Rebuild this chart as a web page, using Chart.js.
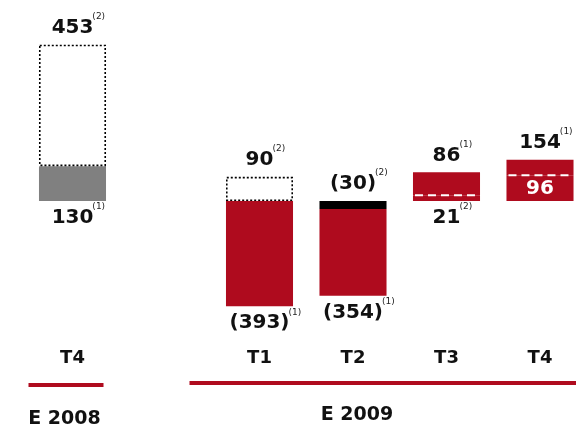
<!DOCTYPE html>
<html>
<head>
<meta charset="utf-8">
<script src="https://cdn.jsdelivr.net/npm/chart.js@4"></script>
<style>
  html, body { margin: 0; padding: 0; background: #fff; overflow: hidden; }
  #wrap { position: relative; width: 600px; height: 427px; }
</style>
</head>
<body>
<div id="wrap"><canvas id="chart" width="600" height="427"></canvas></div>
<script>
// quarters, with an empty slot between 2008 and 2009
const categories = ["T4", "", "T1", "T2", "T3", "T4"];
const groupLabels = ["E 2008", "E 2009"];
const groupStart = [0, 2];
const groupEnd = [0, 5];

// lower and upper segment of each bar
const baseValues = [130, null, -393, -30, 21, 96];
const topValues = [453, null, 90, -324, 86, 58];

// value labels and their notes
const labelsAbove = ["453", "", "90", "(30)", "86", "154"];
const notesAbove = ["(2)", "", "(2)", "(2)", "(1)", "(1)"];
const labelsBelow = ["130", "", "(393)", "(354)", "21", ""];
const notesBelow = ["(1)", "", "(1)", "(1)", "(2)", ""];
const labelsInside = ["", "", "", "", "", "96"];
const notesInside = ["", "", "", "", "", "(2)"];

const RED = "#AF0B1E";
const GREY = "#808080";

const baseColors = [GREY, null, RED, "#000000", RED, RED];
const topColors = ["#ffffff", null, "#ffffff", RED, RED, RED];
const topDotted = [true, false, true, false, false, false];

function drawNote(ctx, note, x, y) {
	ctx.font = '9px "DejaVu Sans"';
	ctx.textAlign = "left";
	ctx.textBaseline = "middle";
	ctx.fillStyle = "#222";
	ctx.fillText(note, x, y);
}

function drawLabel(ctx, text, note, x, y, color) {
	ctx.font = 'bold 20px "DejaVu Sans"';
	ctx.fillStyle = color;
	ctx.textAlign = "center";
	ctx.textBaseline = "middle";
	ctx.fillText(text, x, y);
	if (note) {
		const w = ctx.measureText(text).width;
		drawNote(ctx, note, x + w / 2 - 1, y - 11);
	}
}

const annotations = {
	id: "annotations",
	afterDatasetsDraw(chart) {
		const ctx = chart.ctx;
		const xs = chart.scales.x;
		const m0 = chart.getDatasetMeta(0);
		const m1 = chart.getDatasetMeta(1);
		ctx.save();

		categories.forEach((cat, i) => {
			if (baseValues[i] === null) return;
			const a = m0.data[i].getProps(["x", "y", "base", "width"], true);
			const b = m1.data[i].getProps(["x", "y", "base", "width"], true);
			const left = a.x - a.width / 2;
			const right = a.x + a.width / 2;

			if (topDotted[i]) {
				ctx.setLineDash([2, 2]);
				ctx.lineWidth = 1.6;
				ctx.strokeStyle = "#000";
				const t = Math.min(b.y, b.base), bt = Math.max(b.y, b.base);
				ctx.strokeRect(left + 0.8, t + 0.8, a.width - 1.6, bt - t - 1.6);
			}
			if (baseValues[i] > 0 && topValues[i] > 0 && !topDotted[i]) {
				ctx.setLineDash([8, 5]);
				ctx.lineWidth = 2;
				ctx.strokeStyle = "#fff";
				ctx.beginPath();
				ctx.moveTo(left + 2, a.y);
				ctx.lineTo(right, a.y);
				ctx.stroke();
			}
			ctx.setLineDash([]);

			const top = Math.min(a.y, a.base, b.y, b.base);
			const bottom = Math.max(a.y, a.base, b.y, b.base);
			if (labelsAbove[i]) drawLabel(ctx, labelsAbove[i], notesAbove[i], a.x, top - 17, "#111");
			if (labelsBelow[i]) drawLabel(ctx, labelsBelow[i], notesBelow[i], a.x, bottom + 17, "#111");
			if (labelsInside[i]) {
				const cy = (a.y + a.base) / 2 + 1;
				drawLabel(ctx, labelsInside[i], "", a.x, cy, "#fff");
				drawNote(ctx, notesInside[i], right + 3, cy - 10);
			}
		});

		// quarter labels
		ctx.font = 'bold 18px "DejaVu Sans"';
		ctx.fillStyle = "#111";
		ctx.textAlign = "center";
		ctx.textBaseline = "middle";
		categories.forEach((cat, i) => {
			if (cat) ctx.fillText(cat, xs.getPixelForValue(i), 358);
		});

		// year groups
		groupLabels.forEach((g, k) => {
			const x0 = xs.getPixelForValue(groupStart[k]);
			ctx.fillStyle = RED;
			if (k === 0) {
				ctx.fillRect(x0 - 44, 383, 75, 4);
			} else {
				ctx.fillRect(x0 - 70, 381, 420, 4);
			}
			ctx.fillStyle = "#111";
			ctx.font = 'bold 19px "DejaVu Sans"';
			ctx.textAlign = "center";
			if (k === 0) ctx.fillText(g, x0 - 8, 419);
			else ctx.fillText(g, xs.getPixelForValue(3) + 4, 415);
		});

		ctx.restore();
	},
};

new Chart(document.getElementById("chart").getContext("2d"), {
	type: "bar",
	data: {
		labels: categories,
		datasets: [
			{ label: "base", data: baseValues, backgroundColor: baseColors, borderWidth: 0 },
			{ label: "top", data: topValues, backgroundColor: topColors, borderWidth: 0 },
		],
	},
	options: {
		responsive: false,
		animation: false,
		layout: { padding: { left: 25.75, right: 13.25, top: 0, bottom: 97.4 } },
		datasets: { bar: { categoryPercentage: 1, barPercentage: 0.717 } },
		plugins: { legend: { display: false }, tooltip: { enabled: false } },
		scales: {
			x: { stacked: true, display: false },
			y: { stacked: true, display: false, min: -480, max: 750 },
		},
	},
	plugins: [annotations],
});
</script>
</body>
</html>
